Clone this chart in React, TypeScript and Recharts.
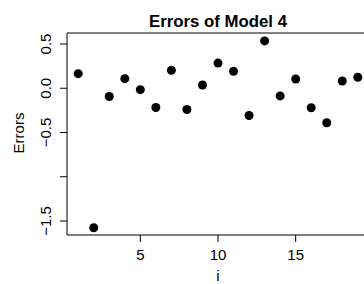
import React from "react";
import { ReferenceLine, Scatter, ScatterChart, XAxis, YAxis } from "recharts";

// residuals of model 4, one per observation i = 1..19
const indices = [1, 2, 3, 4, 5, 6, 7, 8, 9, 10, 11, 12, 13, 14, 15, 16, 17, 18, 19];
const errors = [
    0.165, -1.576, -0.094, 0.108, -0.016, -0.218, 0.202, -0.24, 0.037, 0.284,
    0.191, -0.308, 0.535, -0.087, 0.104, -0.221, -0.39, 0.082, 0.124,
];
const xTicks = [5, 10, 15];
const yTicks = [-1.5, -1, -0.5, 0, 0.5];
const yTickLabels = ["\u22121.5", "", "\u22120.5", "0.0", "0.5"];

const points = indices.map((i, k) => ({ i, e: errors[k] }));

const FONT = '"Liberation Sans", Arial, Helvetica, sans-serif';
const X_DOMAIN: [number, number] = [0.28, 19.72];
const Y_DOMAIN: [number, number] = [-1.658, 0.624];

function YTick(props: any)
{
    const { x, y, payload } = props;
    const idx = yTicks.indexOf(payload.value);
    const label = idx >= 0 ? yTickLabels[idx] : "";
    if (!label) return null;
    return (
        <text
            transform={`translate(${x - 9.5},${y}) rotate(-90)`}
            textAnchor="middle"
            fontSize={15}
            fontFamily={FONT}
            fill="#000"
        >
            {label}
        </text>
    );
}

function XTick(props: any)
{
    const { x, y, payload } = props;
    return (
        <text x={x} y={y + 18} textAnchor="middle" fontSize={15} fontFamily={FONT} fill="#000">
            {payload.value}
        </text>
    );
}

function Dot(props: any)
{
    const { cx, cy } = props;
    return <circle cx={cx} cy={cy} r={4.5} fill="#000" />;
}

export default function App()
{
    return (
        <div style={{ position: "absolute", left: 0, top: 0, width: 364, height: 284, overflow: "hidden", background: "#fff" }}>
            <ScatterChart width={369} height={284} margin={{ top: 33, right: 0, bottom: 0, left: 0 }}>
                <XAxis
                    type="number"
                    dataKey="i"
                    domain={X_DOMAIN}
                    ticks={xTicks}
                    allowDataOverflow
                    height={49}
                    tickSize={7}
                    tickMargin={0}
                    axisLine={{ stroke: "#000" }}
                    tickLine={{ stroke: "#000" }}
                    tick={<XTick />}
                />
                <YAxis
                    type="number"
                    dataKey="e"
                    domain={Y_DOMAIN}
                    ticks={yTicks}
                    allowDataOverflow
                    width={67}
                    tickSize={7}
                    tickMargin={0}
                    axisLine={{ stroke: "#000" }}
                    tickLine={{ stroke: "#000" }}
                    tick={<YTick />}
                />
                <ReferenceLine y={Y_DOMAIN[1]} stroke="#000" ifOverflow="visible" />
                <Scatter data={points} fill="#000" shape={<Dot />} isAnimationActive={false} />
            </ScatterChart>
            <svg width={364} height={284} style={{ position: "absolute", left: 0, top: 0, pointerEvents: "none" }}>
                <text x={218} y={27} textAnchor="middle" fontSize={16.8} fontWeight="bold" fontFamily={FONT} fill="#000">
                    Errors of Model 4
                </text>
                <text
                    transform="translate(24,133) rotate(-90)"
                    textAnchor="middle"
                    fontSize={15}
                    fontFamily={FONT}
                    fill="#000"
                >
                    Errors
                </text>
                <text x={218} y={281} textAnchor="middle" fontSize={15} fontFamily={FONT} fill="#000">
                    i
                </text>
            </svg>
        </div>
    );
}
